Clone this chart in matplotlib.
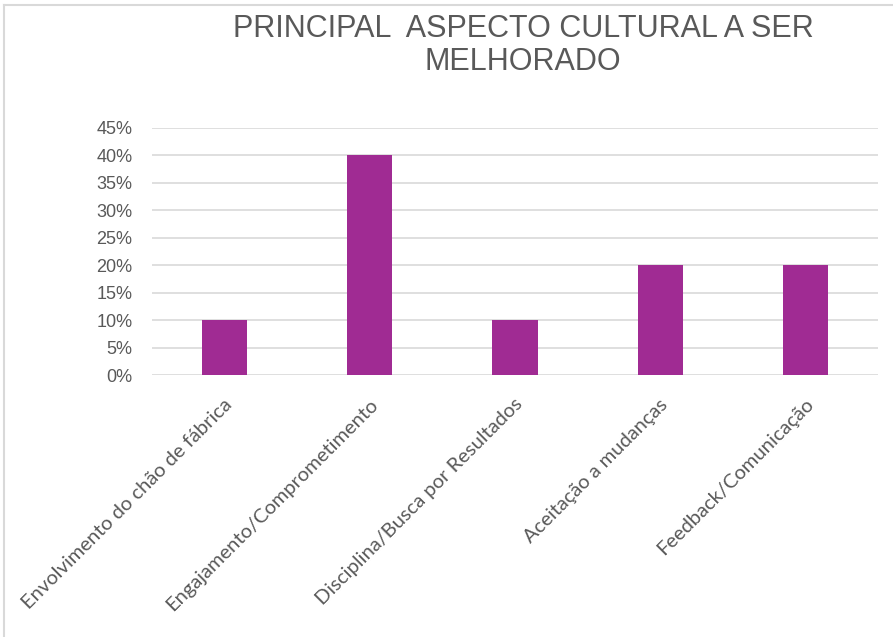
import matplotlib.pyplot as plt
import matplotlib.transforms as mtransforms
from matplotlib.ticker import MultipleLocator, FuncFormatter

categories = [
    "Envolvimento do chão de fábrica",
    "Engajamento/Comprometimento",
    "Disciplina/Busca por Resultados",
    "Aceitação a mudanças",
    "Feedback/Comunicação",
]
values = [0.10, 0.40, 0.10, 0.20, 0.20]
title = "PRINCIPAL  ASPECTO CULTURAL A SER\nMELHORADO"

gray = "#595959"

fig = plt.figure(figsize=(8.93, 6.37), dpi=100)
ax = fig.add_axes([152 / 893, 1 - 375 / 637, (878 - 152) / 893, (375 - 128) / 637])

x = range(len(categories))
ax.bar(x, values, width=0.31, color="#A02B93", zorder=3)

ax.set_xlim(-0.5, len(categories) - 0.5)
ax.set_ylim(0, 0.45)
ax.yaxis.set_major_locator(MultipleLocator(0.05))
ax.yaxis.set_major_formatter(FuncFormatter(lambda v, p: f"{round(v * 100)}%"))
ax.grid(axis="y", color="#d9d9d9", linewidth=1.2, zorder=0)
for s in ax.spines.values():
    s.set_visible(False)
ax.tick_params(length=0)
ax.tick_params(axis="y", labelsize=13, labelcolor=gray, pad=14)
for lab in ax.get_yticklabels():
    lab.set_family(["Liberation Sans", "DejaVu Sans"])

ax.set_xticks(list(x))
ax.set_xticklabels(categories, rotation=45, ha="right", va="center",
                   rotation_mode="anchor", fontsize=14.5, color=gray,
                   family=["Lato", "DejaVu Sans"])
ax.tick_params(axis="x", pad=12)
shift = mtransforms.ScaledTranslation(5 / 100, -10 / 100, fig.dpi_scale_trans)
for lab in ax.get_xticklabels():
    lab.set_transform(lab.get_transform() + shift)

fig.text(523 / 893, 1 - 14 / 637, title, ha="center", va="top",
         fontsize=22, color=gray, linespacing=1.12,
         family=["Liberation Sans", "DejaVu Sans"])

# light frame on top/left like the cropped chart area
fig.add_artist(plt.Line2D([4 / 893, 4 / 893], [0, 1 - 5 / 637], color="#d9d9d9", lw=1.5,
                          transform=fig.transFigure))
fig.add_artist(plt.Line2D([4 / 893, 1], [1 - 5 / 637, 1 - 5 / 637], color="#d9d9d9", lw=1.5,
                          transform=fig.transFigure))

fig.savefig("out.png", dpi=100)
